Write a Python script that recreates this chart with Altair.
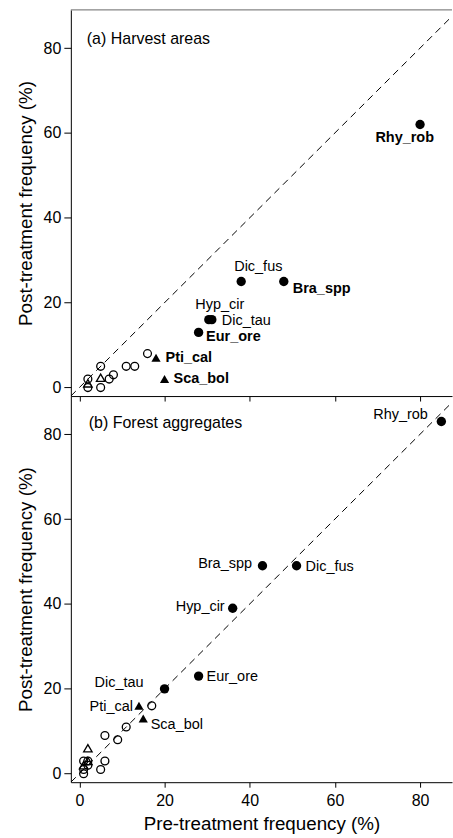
import altair as alt
import pandas as pd

FONT = "Liberation Sans"

# ---------------- Panel (a) Harvest areas ----------------
a_labels = ["Rhy_rob", "Dic_fus", "Bra_spp", "Hyp_cir", "Dic_tau", "Eur_ore", "Pti_cal", "Sca_bol"]
a_pre = [80, 38, 48, 30.4, 31.1, 28, 18, 20]
a_post = [62, 25, 25, 16, 16, 13, 7, 2]
a_shape = ["circle", "circle", "circle", "circle", "circle", "circle", "triangle", "triangle"]
a_bold = ["bold", "normal", "bold", "normal", "normal", "bold", "bold", "bold"]
a_open_circ_pre = [16, 11, 13, 8, 7, 5, 5, 2, 2]
a_open_circ_post = [8, 5, 5, 3, 2, 5, 0, 2, 0]
a_open_tri_pre = [5, 2]
a_open_tri_post = [2.3, 1]

# ---------------- Panel (b) Forest aggregates ----------------
b_labels = ["Rhy_rob", "Bra_spp", "Dic_fus", "Hyp_cir", "Eur_ore", "Dic_tau", "Pti_cal", "Sca_bol"]
b_pre = [85, 43, 51, 36, 28, 20, 14, 15]
b_post = [83, 49, 49, 39, 23, 20, 16, 13]
b_shape = ["circle", "circle", "circle", "circle", "circle", "circle", "triangle", "triangle"]
b_bold = ["normal"] * 8
b_open_circ_pre = [17, 11, 6, 9, 6, 5, 1, 1, 1, 2, 2]
b_open_circ_post = [16, 11, 9, 8, 3, 1, 0, 1, 3, 3, 2]
b_open_tri_pre = [2, 1, 2]
b_open_tri_post = [6, 2, 3]

# 1:1 reference line endpoints
ref_vals = [-2, 89]

# label placement (align, dx, dy) per species label
a_place = {
    "Rhy_rob": ("right", 14, 13.5),
    "Dic_fus": ("left", -7, -14),
    "Bra_spp": ("left", 9, 7.5),
    "Hyp_cir": ("left", -13.5, -15),
    "Dic_tau": ("left", 10, 1),
    "Eur_ore": ("left", 7.5, 4.5),
    "Pti_cal": ("left", 9.5, 0),
    "Sca_bol": ("left", 9, 0),
}
b_place = {
    "Rhy_rob": ("right", -13.5, -6.5),
    "Bra_spp": ("right", -10.5, -2),
    "Dic_fus": ("left", 9, 1.5),
    "Hyp_cir": ("right", -8, -1),
    "Eur_ore": ("left", 8, 1),
    "Dic_tau": ("right", -21, -6),
    "Pti_cal": ("right", -6, 1),
    "Sca_bol": ("left", 7.5, 6.5),
}

W = 382
H = 387

xs = alt.Scale(domain=[-2, 87.5], nice=False, zero=False)
ys = alt.Scale(domain=[-2, 89], nice=False, zero=False)


def make_panel(labels, pre, post, shape, bold, oc_pre, oc_post, ot_pre, ot_post,
               place, title, tx, ty, bottom):
    filled = pd.DataFrame({"pre": pre, "post": post, "shape": shape,
                           "label": labels, "weight": bold})
    oc = pd.DataFrame({"pre": oc_pre, "post": oc_post})
    ot = pd.DataFrame({"pre": ot_pre, "post": ot_post})
    ref = pd.DataFrame({"pre": ref_vals, "post": ref_vals})
    ttl = pd.DataFrame({"title": [title]})

    if bottom:
        xaxis = alt.Axis(values=[0, 20, 40, 60, 80], title="Pre-treatment frequency (%)",
                         tickSize=5, labelPadding=5, titlePadding=6)
    else:
        xaxis = alt.Axis(values=[0, 20, 40, 60, 80], title=None, labels=False,
                         tickSize=5)
    yaxis = alt.Axis(values=[0, 20, 40, 60, 80], title="Post-treatment frequency (%)",
                     tickSize=7, labelPadding=3, titlePadding=8)

    X = alt.X("pre:Q", scale=xs, axis=xaxis)
    Y = alt.Y("post:Q", scale=ys, axis=yaxis)

    layers = []
    layers.append(alt.Chart(ref).mark_line(color="black", strokeWidth=1,
                                           strokeDash=[7, 5], clip=True).encode(x=X, y=Y))
    layers.append(alt.Chart(oc).mark_point(shape="circle", filled=False, color="black",
                                           size=62, strokeWidth=1.3, opacity=1).encode(x=X, y=Y))
    layers.append(alt.Chart(ot).mark_point(shape="triangle-up", filled=False, color="black",
                                           size=72, strokeWidth=1.3, opacity=1).encode(x=X, y=Y))
    layers.append(alt.Chart(filled).transform_filter(alt.datum.shape == "circle")
                  .mark_point(shape="circle", filled=True, color="black", size=88, opacity=1)
                  .encode(x=X, y=Y))
    layers.append(alt.Chart(filled).transform_filter(alt.datum.shape == "triangle")
                  .mark_point(shape="triangle-up", filled=True, color="black", size=85, opacity=1)
                  .encode(x=X, y=Y))
    for lab, w in zip(labels, bold):
        al, dx, dy = place[lab]
        layers.append(alt.Chart(filled).transform_filter(alt.datum.label == lab)
                      .mark_text(align=al, baseline="middle", dx=dx, dy=dy, font=FONT,
                                 fontSize=14.5, fontWeight=w, color="black")
                      .encode(x=X, y=Y, text="label:N"))
    layers.append(alt.Chart(ttl).mark_text(align="left", baseline="middle", font=FONT,
                                           fontSize=16, fontWeight="normal", color="black")
                  .encode(x=alt.value(tx), y=alt.value(ty), text="title:N"))
    if not bottom:
        layers.append(alt.Chart(ttl).mark_rule(color="#666", strokeWidth=1)
                      .encode(x=alt.value(0), x2=alt.value(W), y=alt.value(0)))
    return alt.layer(*layers).properties(width=W, height=H)


top = make_panel(a_labels, a_pre, a_post, a_shape, a_bold,
                 a_open_circ_pre, a_open_circ_post, a_open_tri_pre, a_open_tri_post,
                 a_place, "(a) Harvest areas", 16, 29, False)
bot = make_panel(b_labels, b_pre, b_post, b_shape, b_bold,
                 b_open_circ_pre, b_open_circ_post, b_open_tri_pre, b_open_tri_post,
                 b_place, "(b) Forest aggregates", 18, 27, True)

chart = alt.vconcat(top, bot, spacing=0, bounds="flush").properties(
    padding={"left": 16, "top": 8, "right": 0, "bottom": 2}
).configure_view(stroke=None).configure_axis(
    labelFont=FONT, titleFont=FONT, labelFontSize=16, titleFontSize=18.8,
    labelColor="black", titleColor="black", domainColor="black", tickColor="black",
    titleFontWeight="normal", grid=False, domainWidth=1, tickWidth=1
)

chart.save("out.html", embed_options={"renderer": "svg", "actions": False})
